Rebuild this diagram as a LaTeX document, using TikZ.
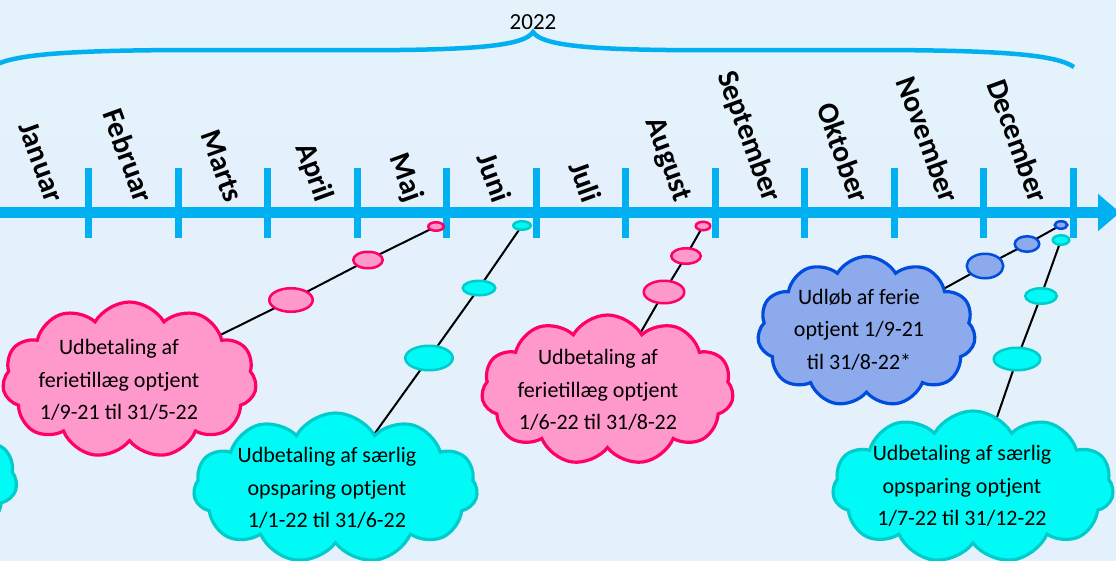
\documentclass[tikz,border=0pt]{standalone}
\usepackage{fontspec}
\setmainfont{Carlito}
\usetikzlibrary{shapes.geometric, shapes.symbols, arrows.meta, positioning}
\usepackage{xcolor}
\definecolor{axisblue}{RGB}{0,176,240}
\definecolor{pinkfill}{RGB}{255,153,204}
\definecolor{pinkline}{RGB}{255,0,102}
\definecolor{cyanfill}{RGB}{0,250,245}
\definecolor{cyanline}{RGB}{0,204,204}
\definecolor{bluefill}{RGB}{141,170,237}
\definecolor{blueline}{RGB}{0,76,220}
\definecolor{bgtop}{RGB}{228,242,252}
\definecolor{bgmid}{RGB}{245,250,255}
\definecolor{bgbot}{RGB}{228,240,251}
\pgfdeclarelayer{behind}
\pgfsetlayers{behind,main}

\begin{document}
\begin{tikzpicture}[
        x=1pt, y=1pt,
        sky/.style={cloud, cloud puffs=11, cloud puff arc=120, cloud ignores aspect, draw, line width=3.2pt, inner sep=0},
        pinksky/.style={sky, fill=pinkfill, draw=pinkline},
        cyansky/.style={sky, fill=cyanfill, draw=cyanline},
        bluesky/.style={sky, fill=bluefill, draw=blueline},
        skytext/.style={align=center, inner sep=0, font=\fontsize{22}{32.5}\selectfont},
        bubble/.style={ellipse, draw, line width=2.5pt, inner sep=0},
        pinkbub/.style={bubble, fill=pinkfill, draw=pinkline},
        cyanbub/.style={bubble, fill=cyanfill, draw=cyanline},
        bluebub/.style={bubble, fill=bluefill, draw=blueline},
        month/.style={rotate=-70, anchor=east, inner sep=0, font=\fontsize{30}{36}\selectfont\bfseries},
        monthtick/.style={axisblue, line width=7pt},
        link/.style={line width=2pt}
    ]

    \useasboundingbox (0,0) rectangle (1116,-560);
    \begin{pgfonlayer}{behind}
        \shade[top color=bgtop, middle color=bgmid, bottom color=bgbot] (0,0) rectangle (1116,-560);
    \end{pgfonlayer}

    % Year brace
    \draw[axisblue, line width=4.5pt] (-8,-67) .. controls (10,-55) and (60,-50) .. (200,-50) -- (400,-50)
        .. controls (480,-49) and (525,-45) .. (533,-32)
        .. controls (541,-45) and (586,-49) .. (666,-50) -- (866,-50)
        .. controls (1006,-50) and (1056,-55) .. (1074,-67);
    \node[inner sep=0, font=\fontsize{23}{28}\selectfont] (year) at (533,-22) {2022};

    % Timeline
    \draw[axisblue, line width=11pt, -{Triangle[length=22pt, width=36pt]}] (-5,-212.5) -- (1120,-212.5);
    \foreach \m [count=\i] in {Januar, Februar, Marts, April, Maj, Juni, Juli, August, September, Oktober, November, December} {
        \pgfmathsetmacro{\tx}{89.5*\i-0.9}
        \draw[monthtick] (\tx,-168) -- (\tx,-238);
        \node[month] (m\i) at (\tx-33,-201) {\m};
    }

    % Clouds
    \node[cyansky, minimum width=282pt, minimum height=150pt] (saerlig0) at (-124,-480) {};
    \node[pinksky, minimum width=254pt, minimum height=156pt] (ferie1) at (129.5,-380) {};
    \node[skytext] (ferie1txt) at ([xshift=-10.5pt]ferie1.center) {Udbetaling af\\ferietillæg optjent\\1/9-21 til 31/5-22};
    \node[cyansky, minimum width=284pt, minimum height=150pt] (saerlig1) at (335.5,-488) {};
    \node[skytext] (saerlig1txt) at ([xshift=-8.5pt]saerlig1.center) {Udbetaling af særlig\\opsparing optjent\\1/1-22 til 31/6-22};
    \node[pinksky, minimum width=252pt, minimum height=150pt] (ferie2) at (607.5,-390) {};
    \node[skytext] (ferie2txt) at ([xshift=-9.5pt]ferie2.center) {Udbetaling af\\ferietillæg optjent\\1/6-22 til 31/8-22};
    \node[bluesky, minimum width=218pt, minimum height=150pt] (udloeb) at (866.5,-331.5) {};
    \node[skytext] (udloebtxt) at ([xshift=-7.5pt, yshift=2pt]udloeb.center) {Udløb af ferie\\optjent 1/9-21\\til 31/8-22*};
    \node[cyansky, minimum width=281pt, minimum height=152pt] (saerlig2) at (973,-487) {};
    \node[skytext] (saerlig2txt) at ([xshift=-11pt, yshift=1pt]saerlig2.center) {Udbetaling af særlig\\opsparing optjent\\1/7-22 til 31/12-22};

    % Bubbles
    \node[pinkbub, minimum width=15.5pt, minimum height=8.5pt] (p1a) at (436,-226.5) {};
    \node[pinkbub, minimum width=29.5pt, minimum height=16.5pt] (p1b) at (368,-260) {};
    \node[pinkbub, minimum width=43.5pt, minimum height=23.5pt] (p1c) at (291,-300) {};
    \node[cyanbub, minimum width=17.5pt, minimum height=8.5pt] (c1a) at (522,-225.5) {};
    \node[cyanbub, minimum width=32.5pt, minimum height=14.5pt] (c1b) at (479,-288) {};
    \node[cyanbub, minimum width=47.5pt, minimum height=24.5pt] (c1c) at (429,-358) {};
    \node[pinkbub, minimum width=14.5pt, minimum height=8.5pt] (p2a) at (703,-226) {};
    \node[pinkbub, minimum width=29.5pt, minimum height=15.5pt] (p2b) at (686,-256) {};
    \node[pinkbub, minimum width=40.5pt, minimum height=22.5pt] (p2c) at (664,-292) {};
    \node[bluebub, minimum width=12.5pt, minimum height=7.5pt] (b1a) at (1061,-225) {};
    \node[bluebub, minimum width=24.5pt, minimum height=15.5pt] (b1b) at (1027,-244) {};
    \node[bluebub, minimum width=36.5pt, minimum height=24.5pt] (b1c) at (985,-266) {};
    \node[cyanbub, minimum width=16.5pt, minimum height=9.5pt] (c2a) at (1061,-240) {};
    \node[cyanbub, minimum width=31.5pt, minimum height=15.5pt] (c2b) at (1041,-296) {};
    \node[cyanbub, minimum width=46.5pt, minimum height=22.5pt] (c2c) at (1017,-359) {};

    % Links
    \begin{pgfonlayer}{behind}
        \draw[link] (ferie1.center) -- (p1c.center) -- (p1b.center) -- (p1a.center);
        \draw[link] (saerlig1.center) -- (c1c.center) -- (c1b.center) -- (c1a.center);
        \draw[link] (ferie2.center) -- (p2c.center) -- (p2b.center) -- (p2a.center);
        \draw[link] (udloeb.center) -- (b1c.center) -- (b1b.center) -- (b1a.center);
        \draw[link] (saerlig2.center) -- (c2c.center) -- (c2b.center) -- (c2a.center);
    \end{pgfonlayer}

\end{tikzpicture}
\end{document}
